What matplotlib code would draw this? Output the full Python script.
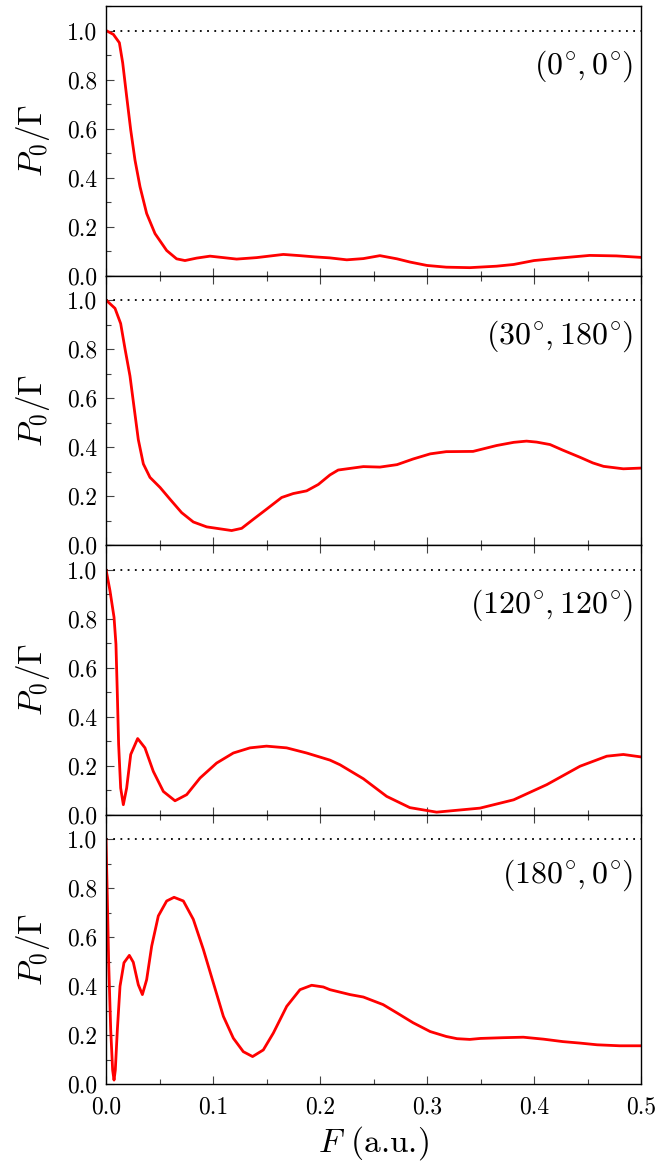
import matplotlib
matplotlib.use("Agg")
import matplotlib.pyplot as plt
from matplotlib.ticker import MultipleLocator

plt.rcParams['font.family'] = 'serif'
plt.rcParams['font.serif'] = ['cmr10', 'DejaVu Serif']
plt.rcParams['mathtext.fontset'] = 'cm'
plt.rcParams['axes.formatter.use_mathtext'] = True

# Panel labels (angles)
labels = [r'$(0^{\!\circ}\!, 0^{\!\circ}\!)$', r'$(30^{\!\circ}\!, 180^{\!\circ}\!)$',
          r'$(120^{\!\circ}\!, 120^{\!\circ}\!)$', r'$(180^{\!\circ}\!, 0^{\!\circ}\!)$']
xtick_labels = ['0.0', '0.1', '0.2', '0.3', '0.4', '0.5']
ytick_labels = ['0.0', '0.2', '0.4', '0.6', '0.8', '1.0']

# Panel 1: (0°, 0°)
F1 = [0.0, 0.0069, 0.0125, 0.0156, 0.0193, 0.0231, 0.0271, 0.0318, 0.038, 0.0458,
      0.0567, 0.066, 0.0738, 0.0847, 0.0972, 0.1097, 0.1221, 0.1408, 0.1657, 0.1813,
      0.195, 0.209, 0.225, 0.2405, 0.256, 0.272, 0.284, 0.30, 0.318, 0.340,
      0.365, 0.381, 0.40, 0.421, 0.452, 0.477, 0.50]
P1 = [1.0, 0.984, 0.95, 0.868, 0.731, 0.594, 0.471, 0.362, 0.253, 0.171,
      0.102, 0.068, 0.061, 0.071, 0.079, 0.073, 0.067, 0.073, 0.086, 0.081,
      0.076, 0.072, 0.064, 0.069, 0.081, 0.068, 0.055, 0.041, 0.034, 0.032,
      0.038, 0.045, 0.061, 0.070, 0.082, 0.080, 0.074]

# Panel 2: (30°, 180°)
F2 = [0.0, 0.0084, 0.0137, 0.0178, 0.0224, 0.0262, 0.0302, 0.0349, 0.0411, 0.0505,
      0.0598, 0.0707, 0.0816, 0.0941, 0.1065, 0.1174, 0.1268, 0.1377, 0.150, 0.1642,
      0.175, 0.1875, 0.1984, 0.2093, 0.217, 0.2405, 0.256, 0.272, 0.287, 0.303,
      0.318, 0.343, 0.365, 0.381, 0.393, 0.4025, 0.415, 0.427, 0.443, 0.455,
      0.465, 0.4835, 0.50]
P2 = [1.0, 0.966, 0.904, 0.800, 0.69, 0.563, 0.430, 0.331, 0.276, 0.235,
      0.187, 0.132, 0.094, 0.074, 0.066, 0.059, 0.068, 0.105, 0.146, 0.194,
      0.210, 0.221, 0.247, 0.286, 0.306, 0.32, 0.318, 0.328, 0.351, 0.372,
      0.381, 0.382, 0.406, 0.419, 0.424, 0.420, 0.41, 0.387, 0.358, 0.335,
      0.321, 0.311, 0.314]

# Panel 3: (120°, 120°)
F3 = [0.0, 0.0037, 0.0075, 0.0093, 0.0106, 0.0118, 0.0137, 0.0162, 0.0193, 0.0231,
      0.0296, 0.0364, 0.0442, 0.0536, 0.0645, 0.0754, 0.0879, 0.1034, 0.119, 0.1346,
      0.150, 0.1688, 0.1875, 0.2093, 0.2187, 0.2405, 0.2623, 0.284, 0.309, 0.3495,
      0.381, 0.412, 0.443, 0.468, 0.4835, 0.50]
P3 = [1.0, 0.914, 0.805, 0.695, 0.49, 0.286, 0.108, 0.04, 0.108, 0.245,
      0.31, 0.272, 0.176, 0.094, 0.056, 0.081, 0.149, 0.21, 0.251, 0.272,
      0.279, 0.272, 0.251, 0.222, 0.203, 0.146, 0.074, 0.028, 0.0096, 0.026,
      0.06, 0.122, 0.197, 0.238, 0.245, 0.235]

# Panel 4: (180°, 0°)
F4 = [0.0, 0.0012, 0.0025, 0.0044, 0.0062, 0.0075, 0.0087, 0.0106, 0.0131, 0.0168,
      0.0218, 0.0255, 0.0302, 0.034, 0.038, 0.0427, 0.0489, 0.0567, 0.0636, 0.0723,
      0.0816, 0.091, 0.1003, 0.1097, 0.119, 0.1283, 0.137, 0.147, 0.1564, 0.1689,
      0.1813, 0.1922, 0.2031, 0.2093, 0.228, 0.2405, 0.259, 0.272, 0.287, 0.303,
      0.318, 0.328, 0.340, 0.35, 0.371, 0.39, 0.409, 0.427, 0.443, 0.459,
      0.480, 0.50]
P4 = [1.0, 0.768, 0.495, 0.221, 0.057, 0.016, 0.057, 0.221, 0.399, 0.495,
      0.525, 0.497, 0.405, 0.365, 0.426, 0.563, 0.686, 0.747, 0.762, 0.747,
      0.672, 0.549, 0.413, 0.276, 0.187, 0.132, 0.112, 0.139, 0.208, 0.317,
      0.385, 0.403, 0.396, 0.385, 0.365, 0.355, 0.324, 0.29, 0.25, 0.214,
      0.194, 0.185, 0.182, 0.186, 0.189, 0.191, 0.183, 0.173, 0.167, 0.16,
      0.156, 0.156]

Fs = [F1, F2, F3, F4]
Ps = [P1, P2, P3, P4]

fig = plt.figure(figsize=(6.57, 11.61), dpi=100)
gs = fig.add_gridspec(4, 1, left=106/657, right=641/657, top=1-6/1161,
                      bottom=1-1084/1161, hspace=0)
axes = [fig.add_subplot(gs[i]) for i in range(4)]

for i, ax in enumerate(axes):
    ax.axhline(1.0, color='black', linestyle=(0, (1, 3)), linewidth=1.3)
    ax.plot(Fs[i], Ps[i], color='red', linewidth=2.0, solid_joinstyle='round',
            solid_capstyle='round')
    ax.set_xlim(0, 0.5)
    ax.set_ylim(0, 1.1)
    ax.xaxis.set_major_locator(MultipleLocator(0.1))
    ax.xaxis.set_minor_locator(MultipleLocator(0.05))
    ax.yaxis.set_minor_locator(MultipleLocator(0.1))
    ax.tick_params(which='both', direction='in', top=(i > 0), right=False,
                   labelsize=17, color='#444444', pad=6)
    ax.tick_params(which='major', length=6, width=0.8)
    ax.tick_params(which='minor', length=3.5, width=0.8)
    ax.set_yticks([0, 0.2, 0.4, 0.6, 0.8, 1.0])
    ax.set_yticklabels(ytick_labels)
    ax.set_ylabel(r'$P_0/\Gamma$', fontsize=24)
    ax.yaxis.set_label_coords(-0.1, 0.5)
    ax.text(0.985, 0.775, labels[i], transform=ax.transAxes, ha='right',
            va='center', fontsize=23)
    for s in ax.spines.values():
        s.set_linewidth(1.0)
    if i < 3:
        ax.tick_params(labelbottom=False)
    else:
        ax.set_xticks([0, 0.1, 0.2, 0.3, 0.4, 0.5])
        ax.set_xticklabels(xtick_labels)
        ax.tick_params(axis='x', pad=9)
        ax.set_xlabel(r'$F$ (a.u.)', fontsize=24, labelpad=4)

fig.savefig('out.png', dpi=100)
